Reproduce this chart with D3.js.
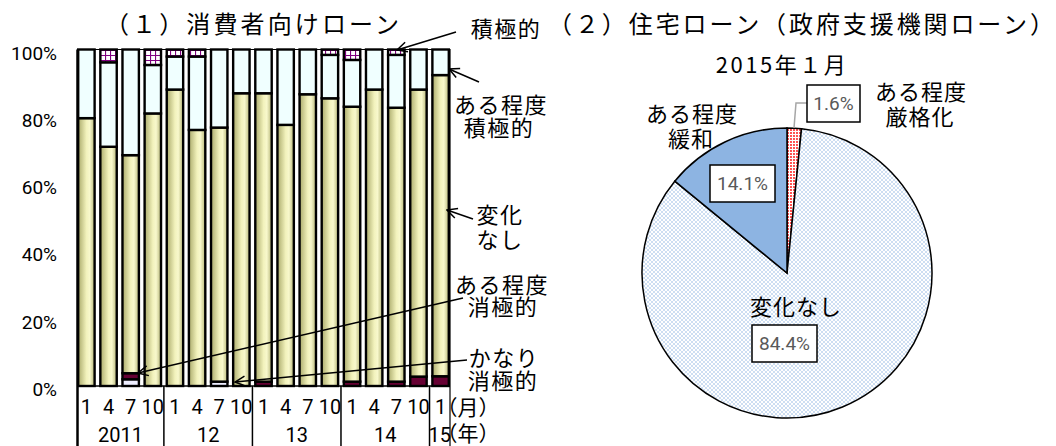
<!DOCTYPE html>
<html>
<head>
<meta charset="utf-8">
<script src="https://cdn.jsdelivr.net/npm/d3@7"></script>
<style>
  body { margin: 0; background: #fff; }
  .jp { font-family: "Noto Sans CJK JP", sans-serif; fill: #000; }
  .num { font-family: Roboto, "Liberation Sans", sans-serif; fill: #000; }
</style>
</head>
<body>
<script>
// (1) consumer loans, share of answers by quarter
var quarters = ["2011-1","2011-4","2011-7","2011-10","2012-1","2012-4","2012-7","2012-10",
                "2013-1","2013-4","2013-7","2013-10","2014-1","2014-4","2014-7","2014-10","2015-1"];
var monthLabels = ["1","4","7","10","1","4","7","10","1","4","7","10","1","4","7","10","1"];
var yearLabels = ["2011","12","13","14","15"];
var yearStart = [0, 4, 8, 12, 16];

var kanariShokyoku = [0, 0, 2.0, 0, 0, 0, 1.3, 0, 0, 0, 0, 0, 0, 0, 0, 0, 0];
var aruShokyoku    = [0, 0, 1.8, 0, 0, 0, 0, 0, 1.3, 0, 0, 0, 1.3, 0, 1.3, 2.8, 2.9];
var henkaNashi     = [79.6, 71.1, 64.8, 81.0, 88.1, 76.1, 75.5, 87.0, 85.7, 77.6, 86.7, 85.5, 81.7, 88.1, 81.4, 85.3, 89.5];
var aruSekkyoku    = [20.4, 25.1, 31.4, 14.4, 9.8, 21.8, 23.2, 13.0, 13.0, 22.4, 13.3, 12.9, 13.9, 11.9, 15.7, 11.9, 7.6];
var sekkyoku       = [0, 3.8, 0, 4.6, 2.1, 2.1, 0, 0, 0, 0, 0, 1.6, 3.1, 0, 1.6, 0, 0];

var yTicks = [0, 20, 40, 60, 80, 100];

// (2) housing loans, Jan 2015
var pieLabels = ["ある程度厳格化", "変化なし", "ある程度緩和"];
var pieValues = [1.6, 84.4, 14.1];

var svg = d3.select("body").append("svg")
    .attr("width", 1056)
    .attr("height", 446);

var defs = svg.append("defs");

var grad = defs.append("linearGradient").attr("id", "khaki")
    .attr("x1", "0%").attr("x2", "100%").attr("y1", "0%").attr("y2", "0%");
grad.append("stop").attr("offset", "0%").attr("stop-color", "#abab6c");
grad.append("stop").attr("offset", "50%").attr("stop-color", "#f2f2bc");
grad.append("stop").attr("offset", "70%").attr("stop-color", "#f8f8cc");
grad.append("stop").attr("offset", "100%").attr("stop-color", "#b6b678");

var grid = defs.append("pattern").attr("id", "purpleGrid")
    .attr("width", 5).attr("height", 5).attr("patternUnits", "userSpaceOnUse");
grid.append("rect").attr("width", 5).attr("height", 5).attr("fill", "#fff");
grid.append("path").attr("d", "M0,0.5H5M0.5,0V5")
    .attr("stroke", "#800080").attr("stroke-width", 1.2);

var dotBlue = defs.append("pattern").attr("id", "dotBlue")
    .attr("width", 4).attr("height", 4).attr("patternUnits", "userSpaceOnUse");
dotBlue.append("rect").attr("width", 4).attr("height", 4).attr("fill", "#fff");
dotBlue.append("circle").attr("cx", 1).attr("cy", 1).attr("r", 0.8).attr("fill", "#8db4e2");
dotBlue.append("circle").attr("cx", 3).attr("cy", 3).attr("r", 0.8).attr("fill", "#8db4e2");

var dotRed = defs.append("pattern").attr("id", "dotRed")
    .attr("width", 3).attr("height", 3).attr("patternUnits", "userSpaceOnUse");
dotRed.append("rect").attr("width", 3).attr("height", 3).attr("fill", "#fff");
dotRed.append("circle").attr("cx", 1).attr("cy", 1).attr("r", 0.9).attr("fill", "#ff0000");

defs.append("marker").attr("id", "arrow")
    .attr("viewBox", "0 0 12 12").attr("refX", 11).attr("refY", 6)
    .attr("markerWidth", 12).attr("markerHeight", 12)
    .attr("markerUnits", "userSpaceOnUse").attr("orient", "auto")
    .append("path").attr("d", "M1,1L11,6L1,11")
    .attr("fill", "none").attr("stroke", "#000").attr("stroke-width", 1.5);

// ---------- bar chart ----------
var xScale = d3.scaleBand()
    .domain(quarters)
    .range([77, 450])
    .paddingInner(0.15)
    .paddingOuter(0);

var yScale = d3.scaleLinear()
    .domain([0, 100])
    .range([386, 49.5]);

var keys = ["kanari", "aru_s", "henka", "aru_k", "sek"];
var fills = { kanari: "#eeeeff", aru_s: "#660033", henka: "url(#khaki)", aru_k: "#f0ffff", sek: "url(#purpleGrid)" };

var table = quarters.map(function (q, i) {
    return { q: q, kanari: kanariShokyoku[i], aru_s: aruShokyoku[i], henka: henkaNashi[i],
             aru_k: aruSekkyoku[i], sek: sekkyoku[i] };
});
var stacked = d3.stack().keys(keys)(table);

svg.append("g").selectAll("g")
    .data(stacked)
    .enter()
    .append("g")
    .attr("fill", function (d) { return fills[d.key]; })
    .selectAll("rect")
    .data(function (d) { return d.filter(function (s) { return s[1] - s[0] > 0; }); })
    .enter()
    .append("rect")
    .attr("x", function (d) { return xScale(d.data.q) + 1.2; })
    .attr("width", xScale.bandwidth() - 2.4)
    .attr("y", function (d) { return yScale(d[1]); })
    .attr("height", function (d) { return yScale(d[0]) - yScale(d[1]); })
    .attr("stroke", "#000")
    .attr("stroke-width", 2.4);

// plot frame
svg.append("path")
    .attr("d", "M77,49.5H450V446")
    .attr("fill", "none").attr("stroke", "#000").attr("stroke-width", 1.2);
svg.append("line")
    .attr("x1", 77).attr("x2", 450).attr("y1", 386).attr("y2", 386)
    .attr("stroke", "#000").attr("stroke-width", 1.5);
svg.append("line")
    .attr("x1", 77.5).attr("x2", 77.5).attr("y1", 49.5).attr("y2", 446)
    .attr("stroke", "#000").attr("stroke-width", 2.5);

// y axis labels
var yAxis = svg.append("g")
    .attr("transform", "translate(77,0)")
    .call(d3.axisLeft(yScale).tickValues(yTicks).tickSize(0).tickPadding(20)
        .tickFormat(function (d) { return d + "%"; }));
yAxis.select(".domain").remove();
yAxis.selectAll("text")
    .attr("class", "num")
    .attr("dy", "0.5em")
    .style("font-size", "19px")
    .style("font-family", "Roboto, sans-serif")
    .attr("fill", "#000");

// category labels
var gap = xScale.step() - xScale.bandwidth();
svg.append("g").selectAll("text")
    .data(quarters)
    .enter()
    .append("text")
    .attr("class", "num")
    .attr("x", function (d) { return xScale(d) + xScale.bandwidth() / 2; })
    .attr("y", 414)
    .attr("text-anchor", "middle")
    .style("font-size", "20px")
    .text(function (d, i) { return monthLabels[i]; });

yearStart.forEach(function (s, i) {
    if (i > 0) {
        var xb = xScale(quarters[s]) - gap / 2;
        svg.append("line")
            .attr("x1", xb).attr("x2", xb).attr("y1", 386).attr("y2", 446)
            .attr("stroke", "#000").attr("stroke-width", 1.5);
    }
    var e = i < yearStart.length - 1 ? yearStart[i + 1] : quarters.length;
    var x0 = i === 0 ? 77 : xScale(quarters[s]) - gap / 2;
    var x1 = e === quarters.length ? 450 : xScale(quarters[e]) - gap / 2;
    svg.append("text")
        .attr("class", "num")
        .attr("x", (x0 + x1) / 2)
        .attr("y", 442)
        .attr("text-anchor", "middle")
        .style("font-size", "20px")
        .text(yearLabels[i]);
});

function jp(x, y, str, size, anchor) {
    return svg.append("text")
        .attr("class", "jp")
        .attr("x", x).attr("y", y)
        .attr("dominant-baseline", "central")
        .attr("text-anchor", anchor || "middle")
        .style("font-size", (size || 22) + "px")
        .text(str);
}

jp(105, 22, "（１）消費者向けローン", 24, "start").attr("textLength", 294).attr("lengthAdjust", "spacing");
jp(548, 22, "（２）住宅ローン（政府支援機関ローン）", 24, "start").attr("textLength", 506).attr("lengthAdjust", "spacing");

// series annotations at right
jp(506, 27, "積極的").style("letter-spacing", "1.5px");
jp(501, 103, "ある程度").style("letter-spacing", "1.5px");
jp(499, 126, "積極的").style("letter-spacing", "1.5px");
jp(500, 213, "変化").style("letter-spacing", "1.5px");
jp(500, 238, "なし").style("letter-spacing", "1.5px");
jp(502, 283, "ある程度").style("letter-spacing", "1.5px");
jp(503, 305, "消極的").style("letter-spacing", "1.5px");
jp(504, 356, "かなり").style("letter-spacing", "1.5px");
jp(503, 379, "消極的").style("letter-spacing", "1.5px");
jp(468, 406, "（月）", 21);
jp(468, 432, "（年）", 21);

var arrows = [
    [456, 32, 397, 50],
    [479, 82, 449, 69],
    [473, 219, 447, 210],
    [463, 298, 138, 373],
    [467, 360, 235, 382]
];
svg.append("g").selectAll("line")
    .data(arrows)
    .enter()
    .append("line")
    .attr("x1", function (d) { return d[0]; })
    .attr("y1", function (d) { return d[1]; })
    .attr("x2", function (d) { return d[2]; })
    .attr("y2", function (d) { return d[3]; })
    .attr("stroke", "#000")
    .attr("stroke-width", 1.5)
    .attr("marker-end", "url(#arrow)");

// ---------- pie chart ----------
var cx = 787, cy = 273, r = 145;
var pie = d3.pie().sort(null).value(function (d) { return d; });
var arc = d3.arc().innerRadius(0).outerRadius(r);
var pieFills = ["url(#dotRed)", "url(#dotBlue)", "#8db4e2"];

svg.append("g")
    .attr("transform", "translate(" + cx + "," + cy + ")")
    .selectAll("path")
    .data(pie(pieValues))
    .enter()
    .append("path")
    .attr("d", arc)
    .attr("fill", function (d, i) { return pieFills[i]; })
    .attr("stroke", "#000")
    .attr("stroke-width", 1.5);

jp(782, 63, "2015年１月").style("letter-spacing", "2.5px");
jp(921, 90, "ある程度").style("letter-spacing", "1px");
jp(920, 115, "厳格化").style("letter-spacing", "1px");
jp(692, 112, "ある程度").style("letter-spacing", "1px");
jp(691, 137, "緩和").style("letter-spacing", "1px");
jp(796, 305, pieLabels[1]).style("letter-spacing", "1px");

// leader for small slice
svg.append("path")
    .attr("d", "M807,103H796L794,128")
    .attr("fill", "none").attr("stroke", "#a6a6a6").attr("stroke-width", 1.5);

var boxes = [
    { x: 807, y: 85, w: 53, h: 37, v: pieValues[0] },
    { x: 710, y: 165, w: 65, h: 37, v: pieValues[2] },
    { x: 752, y: 325, w: 65, h: 37, v: pieValues[1] }
];
boxes.forEach(function (b) {
    svg.append("rect")
        .attr("x", b.x).attr("y", b.y).attr("width", b.w).attr("height", b.h)
        .attr("fill", "#fff").attr("stroke", "#000").attr("stroke-width", 1.5);
    svg.append("text")
        .attr("class", "num")
        .attr("x", b.x + b.w / 2)
        .attr("y", b.y + b.h / 2)
        .attr("dominant-baseline", "central")
        .attr("text-anchor", "middle")
        .style("font-size", "19px")
        .style("fill", "#595959")
        .text(b.v.toFixed(1) + "%");
});
</script>
</body>
</html>
